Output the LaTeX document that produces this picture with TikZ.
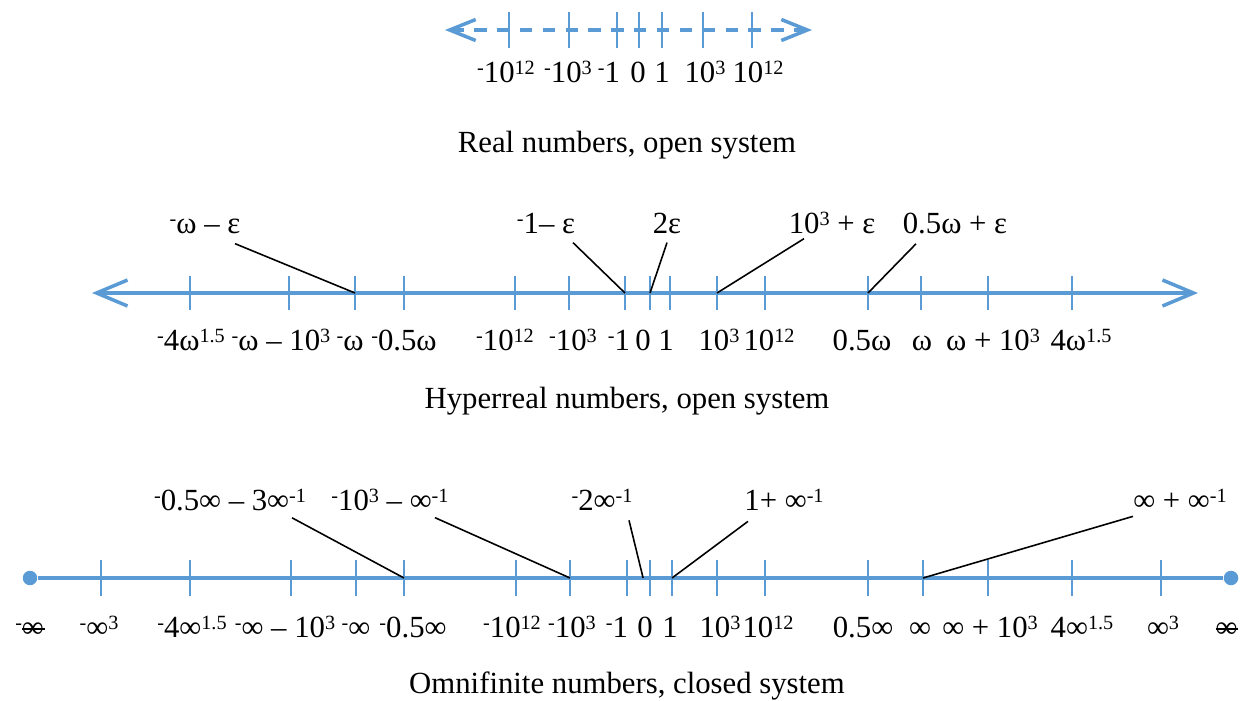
\documentclass[tikz,border=0pt]{standalone}
\usepackage{fontspec}
\setmainfont{Liberation Serif}
\usetikzlibrary{arrows.meta,calc}

\definecolor{axblue}{HTML}{5B9BD5}
\newcommand{\sups}[1]{\raisebox{.26em}{\fontsize{11.5}{12}\selectfont #1}}
\newcommand{\nsup}{\sups{-}}
\newcommand{\binf}{\ooalign{∞\cr\hfil\rule[.23em]{.74em}{.05em}\hfil}}

\begin{document}
\begin{tikzpicture}[x=0.02cm, y=-0.02cm, font=\fontsize{17.5}{20}\selectfont,
    ax/.style={draw=axblue, line width=2pt},
    tk/.style={draw=axblue, line width=1.3pt},
    lb/.style={anchor=base, inner sep=0pt},
    co/.style={draw=black, line width=0.9pt},
    dot/.style={circle, fill=axblue, inner sep=0pt, minimum size=0.29cm}]
  \useasboundingbox (0,0) rectangle (1247,700);

  % real numbers
  \coordinate (rl) at (445,30); \coordinate (rr) at (812,30);
  \draw[ax, dash pattern=on 7pt off 6pt,
        {Straight Barb[length=0.52cm,width=0.42cm]}-{Straight Barb[length=0.52cm,width=0.42cm]}] (rl) -- (rr);
  \foreach \x/\l/\t [count=\i] in {509/506/{\nsup10\sups{12}}, 569/568/{\nsup10\sups{3}},
      617/609/{\nsup1}, 639/638/0, 662/662/1, 703/705/{10\sups{3}}, 752/758/{10\sups{12}}} {
    \draw[tk] (\x,12) -- (\x,48);
    \node[lb] (r\i) at (\l,82) {\t};
  }
  \node[lb] (rcap) at (627,152) {Real numbers, open system};

  % hyperreal numbers
  \coordinate (hl) at (92,293); \coordinate (hr) at (1198,293);
  \draw[ax, {Straight Barb[length=0.62cm,width=0.52cm]}-{Straight Barb[length=0.62cm,width=0.52cm]}] (hl) -- (hr);
  \foreach \x/\l/\t [count=\i] in {190/191/{\nsup4ω\sups{1.5}}, 289/281/{\nsup ω – 10\sups{3}},
      355/350/{\nsup ω}, 404/404/{\nsup0.5ω}, 515/505/{\nsup10\sups{12}}, 569/573/{\nsup10\sups{3}},
      625/619/{\nsup1}, 650/643/0, 670/666/1, 717/719/{10\sups{3}}, 765/769/{10\sups{12}},
      868/862/0.5ω, 921/922/ω, 988/993/{ω + 10\sups{3}}, 1072/1081/{4ω\sups{1.5}}} {
    \draw[tk] (\x,276) -- (\x,310);
    \coordinate (h\i) at (\x,293);
    \node[lb] (hn\i) at (\l,350) {\t};
  }
  \node[lb] (hc1) at (205,233) {\nsup ω – ε};
  \node[lb] (hc2) at (546,233) {\nsup1– ε};
  \node[lb] (hc3) at (667,233) {2ε};
  \node[lb] (hc4) at (832,233) {10\sups{3} + ε};
  \node[lb] (hc5) at (955,233) {0.5ω + ε};
  \draw[co] ($(hc1.south)+(30,10)$) -- (h3);
  \draw[co] ($(hc2.south)+(27,9)$) -- (h7);
  \draw[co] ($(hc3.south)+(0,9)$) -- (h8);
  \draw[co] ($(hc4.south)+(-28,5)$) -- (h10);
  \draw[co] ($(hc5.south)+(-39,10)$) -- (h12);
  \node[lb] (hcap) at (627,408) {Hyperreal numbers, open system};

  % omnifinite numbers
  \node[dot] (ol) at (30,578) {};
  \node[dot] (or) at (1231,578) {};
  \draw[ax] (ol) -- (or);
  \foreach \x/\l/\t [count=\i] in {101/99/{\nsup∞\sups{3}}, 190/192/{\nsup4∞\sups{1.5}},
      291/285/{\nsup∞ – 10\sups{3}}, 356/356/{\nsup∞}, 404/413/{\nsup0.5∞},
      516/512/{\nsup10\sups{12}}, 570/572/{\nsup10\sups{3}}, 627/617/{\nsup1},
      650/645/0, 672/670/1, 717/720/{10\sups{3}}, 765/768/{10\sups{12}},
      868/863/0.5∞, 923/920/∞, 988/990/{∞ + 10\sups{3}}, 1072/1082/{4∞\sups{1.5}},
      1161/1163/{∞\sups{3}}} {
    \draw[tk] (\x,560) -- (\x,596);
    \coordinate (o\i) at (\x,578);
    \node[lb] (on\i) at (\l,637) {\t};
  }
  \node[lb] (onl) at (30,637) {\nsup\binf};
  \node[lb] (onr) at (1227,637) {\binf};
  \node[lb] (oc1) at (230,510) {\nsup0.5∞ – 3∞\sups{-1}};
  \node[lb] (oc2) at (390,510) {\nsup10\sups{3} – ∞\sups{-1}};
  \node[lb] (oc3) at (602,510) {\nsup2∞\sups{-1}};
  \node[lb] (oc4) at (784,510) {1+ ∞\sups{-1}};
  \node[lb] (oc5) at (1180,510) {∞ + ∞\sups{-1}};
  \draw[co] ($(oc1.south)+(62,7)$) -- (o5);
  \draw[co] ($(oc2.south)+(45,7)$) -- (o7);
  \draw[co] ($(oc3.south)+(27,10)$) -- ($(o8)!0.7!(o9)$);
  \draw[co] ($(oc4.south)+(-36,11)$) -- (o10);
  \draw[co] ($(oc5.south)+(-47,6)$) -- (o14);
  \node[lb] (ocap) at (627,693) {Omnifinite numbers, closed system};
\end{tikzpicture}
\end{document}
